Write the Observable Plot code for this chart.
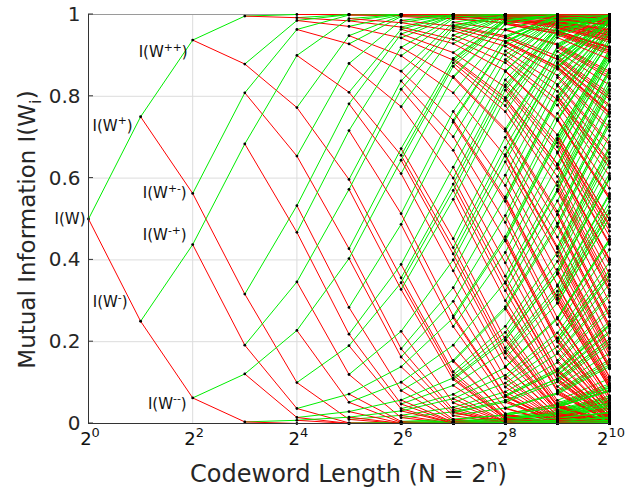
<!DOCTYPE html>
<html><head><meta charset="utf-8">
<script src="https://cdn.jsdelivr.net/npm/d3@7"></script>
<script src="https://cdn.jsdelivr.net/npm/@observablehq/plot@0.6"></script>
<style>body{margin:0;background:#fff;}svg{display:block;}</style>
</head><body><div id="chart"></div>
<script>
// ---- data ----
const startCapacity = 0.5;          // I(W) of the BEC(0.5)
const numLevels = 10;               // n = 0 .. 10, N = 2^n
const xTickValues = [1, 4, 16, 64, 256, 1024];
const xTickLabels = ["2^{0}", "2^{2}", "2^{4}", "2^{6}", "2^{8}", "2^{10}"];
const yTickValues = [0, 0.2, 0.4, 0.6, 0.8, 1];
const yTickLabels = ["0", "0.2", "0.4", "0.6", "0.8", "1"];
const labelTexts = ["I(W)", "I(W^{+})", "I(W^{-})", "I(W^{++})", "I(W^{+-})", "I(W^{-+})", "I(W^{--})"];
const labelPaths = ["", "+", "-", "++", "+-", "-+", "--"];
const xTitle = "Codeword Length (N = 2^{n})";
const yTitle = "Mutual Information I(W_{i})";

// layout for the labels (pixel offsets from their node)
const labelOffsets = [[-3, 0], [-8, 9], [-13, -19], [-5, 12], [-6, 0], [-6, -9], [-6, 6]];

// ---- BEC polarization tree ----
const plusT = I => 2 * I - I * I, minusT = I => I * I;
const nodes = [{n: 0, v: startCapacity}];
const segs = [];
let level = [startCapacity];
for (let n = 0; n < numLevels; n++) {
  const next = [];
  for (const v of level) {
    const p = plusT(v), m = minusT(v);
    segs.push({x1: 2 ** n, y1: v, x2: 2 ** (n + 1), y2: p, c: "#00ee00"});
    segs.push({x1: 2 ** n, y1: v, x2: 2 ** (n + 1), y2: m, c: "#ff0000"});
    next.push(p, m);
  }
  level = next;
  for (const v of level) nodes.push({n: n + 1, v});
}
const labelData = labelTexts.map((t, i) => {
  let v = startCapacity;
  for (const ch of labelPaths[i]) v = ch === "+" ? plusT(v) : minusT(v);
  return {t, x: 2 ** labelPaths[i].length, y: v};
});

const FONT = "DejaVu Sans, sans-serif";
const plot = Plot.plot({
  width: 639, height: 492,
  marginLeft: 88, marginRight: 30, marginTop: 14, marginBottom: 69,
  style: {fontFamily: FONT, fontSize: "20px", color: "#262626", background: "#fff"},
  x: {type: "log", base: 2, domain: [1, 1024], axis: null},
  y: {domain: [0, 1]},
  marks: [
    Plot.gridX(xTickValues, {stroke: "#dcdcdc", strokeOpacity: 1}),
    Plot.gridY(yTickValues, {stroke: "#dcdcdc", strokeOpacity: 1}),
    Plot.frame({stroke: "#9a9a9a"}),
    Plot.link(segs, {x1: "x1", y1: "y1", x2: "x2", y2: "y2", stroke: "c", strokeWidth: 1}),
    Plot.dot(nodes, {x: d => 2 ** d.n, y: "v", r: 1.4, fill: "black", stroke: "none"}),
    Plot.ruleX([1], {stroke: "#333"}),
    Plot.ruleY([0], {stroke: "#333"}),
    Plot.axisY(yTickValues, {tickSize: 0, tickPadding: 8, label: null,
      tickFormat: (d, i) => yTickLabels[i], fontSize: 20}),
    ...labelData.map((d, i) => Plot.text([d], {x: "x", y: "y", text: "t",
      textAnchor: "end", dx: labelOffsets[i][0], dy: labelOffsets[i][1],
      fontSize: 15, fill: "#111"}))
  ]
});
document.getElementById("chart").append(plot);

// rich text: ^{..} superscripts and _{..} subscripts as tspans
function setRich(el, str, size) {
  el.textContent = "";
  const parts = str.split(/(\^\{[^}]*\}|_\{[^}]*\})/).filter(s => s);
  let shift = 0;
  for (const p of parts) {
    let txt = p, target = 0, fs = size;
    if (p.startsWith("^{")) { txt = p.slice(2, -1); target = -0.42 * size; fs = 0.72 * size; }
    else if (p.startsWith("_{")) { txt = p.slice(2, -1); target = 0.25 * size; fs = 0.72 * size; }
    const t = document.createElementNS("http://www.w3.org/2000/svg", "tspan");
    t.setAttribute("dy", target - shift);
    t.setAttribute("font-size", fs);
    t.textContent = txt;
    shift = target;
    el.appendChild(t);
  }
}
const svg = d3.select(plot);
svg.selectAll('g[aria-label="text"] text').each(function () {
  setRich(this, this.textContent, 15);
});
const xs = plot.scale("x"), ys = plot.scale("y");
const y0 = ys.apply(0), y1 = ys.apply(1);
// x tick labels
const gx = svg.append("g").attr("font-family", FONT).attr("fill", "#111");
xTickValues.forEach((v, i) => {
  const t = gx.append("text").attr("x", xs.apply(v) + 2).attr("y", y0 + 22)
    .attr("text-anchor", "middle").attr("font-size", 18);
  setRich(t.node(), xTickLabels[i], 18);
});
// inward y ticks
const gt = svg.append("g").attr("stroke", "#333");
yTickValues.forEach(v => {
  gt.append("line").attr("x1", xs.apply(1)).attr("x2", xs.apply(1) + 5)
    .attr("y1", ys.apply(v)).attr("y2", ys.apply(v));
});
const cx = (xs.apply(1) + xs.apply(1024)) / 2;
const cy = (y0 + y1) / 2;
const xt = svg.append("text").attr("x", cx).attr("y", 482).attr("text-anchor", "middle")
  .attr("font-size", 24).attr("fill", "#262626").attr("font-family", FONT);
setRich(xt.node(), xTitle, 24);
const yt = svg.append("text").attr("transform", `translate(35,${cy + 11}) rotate(-90)`)
  .attr("text-anchor", "middle").attr("font-size", 23).attr("fill", "#262626").attr("font-family", FONT);
setRich(yt.node(), yTitle, 23);
</script></body></html>
